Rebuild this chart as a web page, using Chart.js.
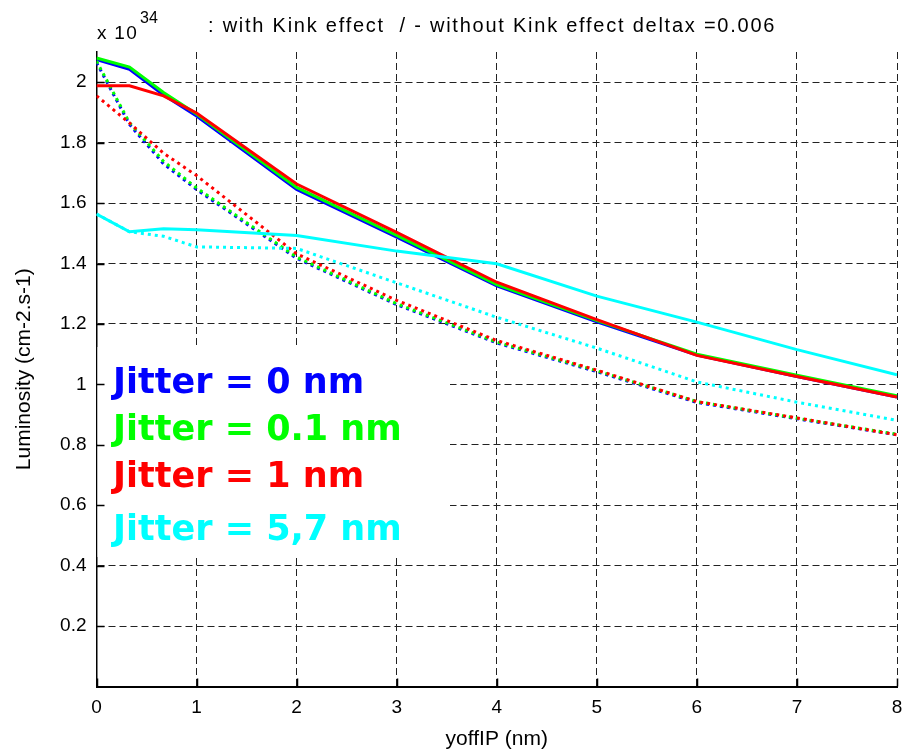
<!DOCTYPE html>
<html>
<head>
<meta charset="utf-8">
<title>Luminosity vs yoffIP</title>
<script src="https://cdn.jsdelivr.net/npm/chart.js@4.4.0/dist/chart.umd.min.js"></script>
<style>
  html, body { margin: 0; padding: 0; background: #fff; }
  #wrap { width: 903px; height: 754px; }
</style>
</head>
<body>
<div id="wrap"><canvas id="lumiChart" width="903" height="754"></canvas></div>
<script>
// vertical offset at the IP (nm)
const yoffIP = [0, 0.33, 0.67, 1, 2, 3, 4, 5, 6, 7, 8];

// luminosity in units of 1e34 cm-2.s-1, solid = with kink effect, dotted = without
const jitter0Kink    = [2.075, 2.043, 1.958, 1.888, 1.645, 1.487, 1.326, 1.207, 1.097, 1.026, 0.958];
const jitter0NoKink  = [2.065, 1.860, 1.730, 1.645, 1.417, 1.264, 1.137, 1.042, 0.940, 0.886, 0.833];
const jitter01Kink   = [2.080, 2.050, 1.966, 1.895, 1.652, 1.493, 1.330, 1.211, 1.100, 1.030, 0.962];
const jitter01NoKink = [2.070, 1.866, 1.738, 1.650, 1.421, 1.267, 1.140, 1.045, 0.943, 0.888, 0.835];
const jitter1Kink    = [1.988, 1.988, 1.955, 1.898, 1.663, 1.503, 1.338, 1.214, 1.096, 1.026, 0.958];
const jitter1NoKink  = [1.955, 1.865, 1.765, 1.691, 1.432, 1.278, 1.145, 1.047, 0.943, 0.889, 0.833];
const jitter57Kink   = [1.564, 1.505, 1.515, 1.512, 1.493, 1.441, 1.399, 1.292, 1.206, 1.115, 1.032];
const jitter57NoKink = [1.564, 1.505, 1.490, 1.455, 1.450, 1.336, 1.222, 1.120, 1.008, 0.941, 0.881];

const xTicks = [0, 1, 2, 3, 4, 5, 6, 7, 8];
const yTicks = [0.2, 0.4, 0.6, 0.8, 1, 1.2, 1.4, 1.6, 1.8, 2];

const legendLines = ['Jitter = 0 nm', 'Jitter = 0.1 nm', 'Jitter = 1 nm', 'Jitter = 5,7 nm'];
const legendColors = ['#0000ff', '#00ff00', '#ff0000', '#00ffff'];

const titleText = ': with Kink effect  / - without Kink effect deltax =0.006';

function pts(values) {
    return yoffIP.map((x, i) => ({ x: x, y: values[i] }));
}

function line(values, color, dotted) {
    return {
        data: pts(values),
        borderColor: color,
        borderWidth: 3,
        borderDash: dotted ? [3, 4] : [],
        pointRadius: 0,
        tension: 0,
        fill: false
    };
}

// first dataset is drawn on top
const datasets = [
    line(jitter57Kink, '#00ffff', false),
    line(jitter57NoKink, '#00ffff', true),
    line(jitter1Kink, '#ff0000', false),
    line(jitter1NoKink, '#ff0000', true),
    line(jitter01Kink, '#00ff00', false),
    line(jitter01NoKink, '#00ff00', true),
    line(jitter0Kink, '#0000ff', false),
    line(jitter0NoKink, '#0000ff', true)
];

// draw text stretched to a given width (matlab fonts are wider)
function spacedText(ctx, text, x, y, width) {
    const w = ctx.measureText(text).width;
    if ('letterSpacing' in ctx) {
        ctx.letterSpacing = ((width - w) / text.length).toFixed(2) + 'px';
    }
    ctx.fillText(text, x, y);
    if ('letterSpacing' in ctx) ctx.letterSpacing = '0px';
}

const decor = {
    id: 'decor',
    beforeDraw(chart) {
        const ctx = chart.ctx;
        ctx.save();
        ctx.fillStyle = '#fff';
        ctx.fillRect(0, 0, chart.width, chart.height);
        ctx.restore();
    },
    beforeDatasetsDraw(chart) {
        // white background of the text box hides the grid
        const ctx = chart.ctx;
        const a = chart.chartArea;
        ctx.save();
        ctx.fillStyle = '#fff';
        ctx.fillRect(a.left + 1, 347, 450 - a.left - 1, 210);
        ctx.restore();
    },
    afterDraw(chart) {
        const ctx = chart.ctx;
        const a = chart.chartArea;
        const xs = chart.scales.x, ys = chart.scales.y;
        ctx.save();

        // inward tick marks
        ctx.strokeStyle = '#000';
        ctx.lineWidth = 1.5;
        ctx.beginPath();
        yTicks.forEach(v => {
            const py = Math.round(ys.getPixelForValue(v)) + 0.5;
            ctx.moveTo(a.left, py);
            ctx.lineTo(a.left + 8, py);
        });
        xTicks.forEach(v => {
            const px = Math.round(xs.getPixelForValue(v)) + 0.5;
            ctx.moveTo(px, a.bottom);
            ctx.lineTo(px, a.bottom - 8);
        });
        ctx.stroke();

        // exponent label
        ctx.fillStyle = '#000';
        ctx.textBaseline = 'alphabetic';
        ctx.textAlign = 'left';
        ctx.font = '19px "Liberation Sans", Arial, sans-serif';
        spacedText(ctx, 'x 10', 97, 39, 41);
        ctx.font = '16px "Liberation Sans", Arial, sans-serif';
        ctx.fillText('34', 140, 23);

        // title
        ctx.font = '20px "Liberation Sans", Arial, sans-serif';
        spacedText(ctx, titleText, 208, 32, 568);

        // text box with jitter labels
        const baselines = [393, 440, 487, 540];
        ctx.font = 'bold 35px "DejaVu Sans", sans-serif';
        legendLines.forEach((t, i) => {
            ctx.fillStyle = legendColors[i];
            ctx.fillText(t, 113, baselines[i]);
        });
        ctx.restore();
    }
};

const axisFont = { family: '"Liberation Sans", Arial, sans-serif', size: 19 };
const titleFont = { family: '"Liberation Sans", Arial, sans-serif', size: 21 };

const ctx = document.getElementById('lumiChart').getContext('2d');
const lumiChart = new Chart(ctx, {
    type: 'line',
    data: { datasets: datasets },
    plugins: [decor],
    options: {
        responsive: false,
        animation: false,
        layout: { padding: { top: 52, right: 6, left: 0, bottom: 0 } },
        plugins: {
            legend: { display: false },
            title: { display: false },
            tooltip: { enabled: false }
        },
        scales: {
            x: {
                type: 'linear',
                min: 0,
                max: 8,
                afterBuildTicks: s => { s.ticks = xTicks.map(v => ({ value: v })); },
                afterFit: s => {
                    s.height = 754 - 686.5;
                    s.paddingLeft = 0;
                    s.paddingRight = 0;
                },
                grid: { color: '#222', lineWidth: 1, drawTicks: false },
                border: { display: true, color: '#000', width: 2, dash: [7, 4] },
                ticks: { color: '#000', padding: 10, maxRotation: 0, font: axisFont },
                title: {
                    display: true,
                    text: 'yoffIP (nm)',
                    color: '#000',
                    padding: { top: 0, bottom: 2 },
                    font: titleFont
                }
            },
            y: {
                type: 'linear',
                min: 0,
                max: 2.1,
                afterBuildTicks: s => { s.ticks = yTicks.map(v => ({ value: v })); },
                afterFit: s => {
                    s.width = 96.5;
                    s.paddingTop = 0;
                    s.paddingBottom = 0;
                },
                grid: { color: '#222', lineWidth: 1, drawTicks: false },
                border: { display: true, color: '#000', width: 1.5, dash: [7, 4] },
                ticks: {
                    color: '#000',
                    padding: 10,
                    callback: v => String(Math.round(v * 10) / 10),
                    font: axisFont
                },
                title: {
                    display: true,
                    text: 'Luminosity (cm-2.s-1)',
                    color: '#000',
                    padding: { top: 12, bottom: 0 },
                    font: titleFont
                }
            }
        }
    }
});
</script>
</body>
</html>
